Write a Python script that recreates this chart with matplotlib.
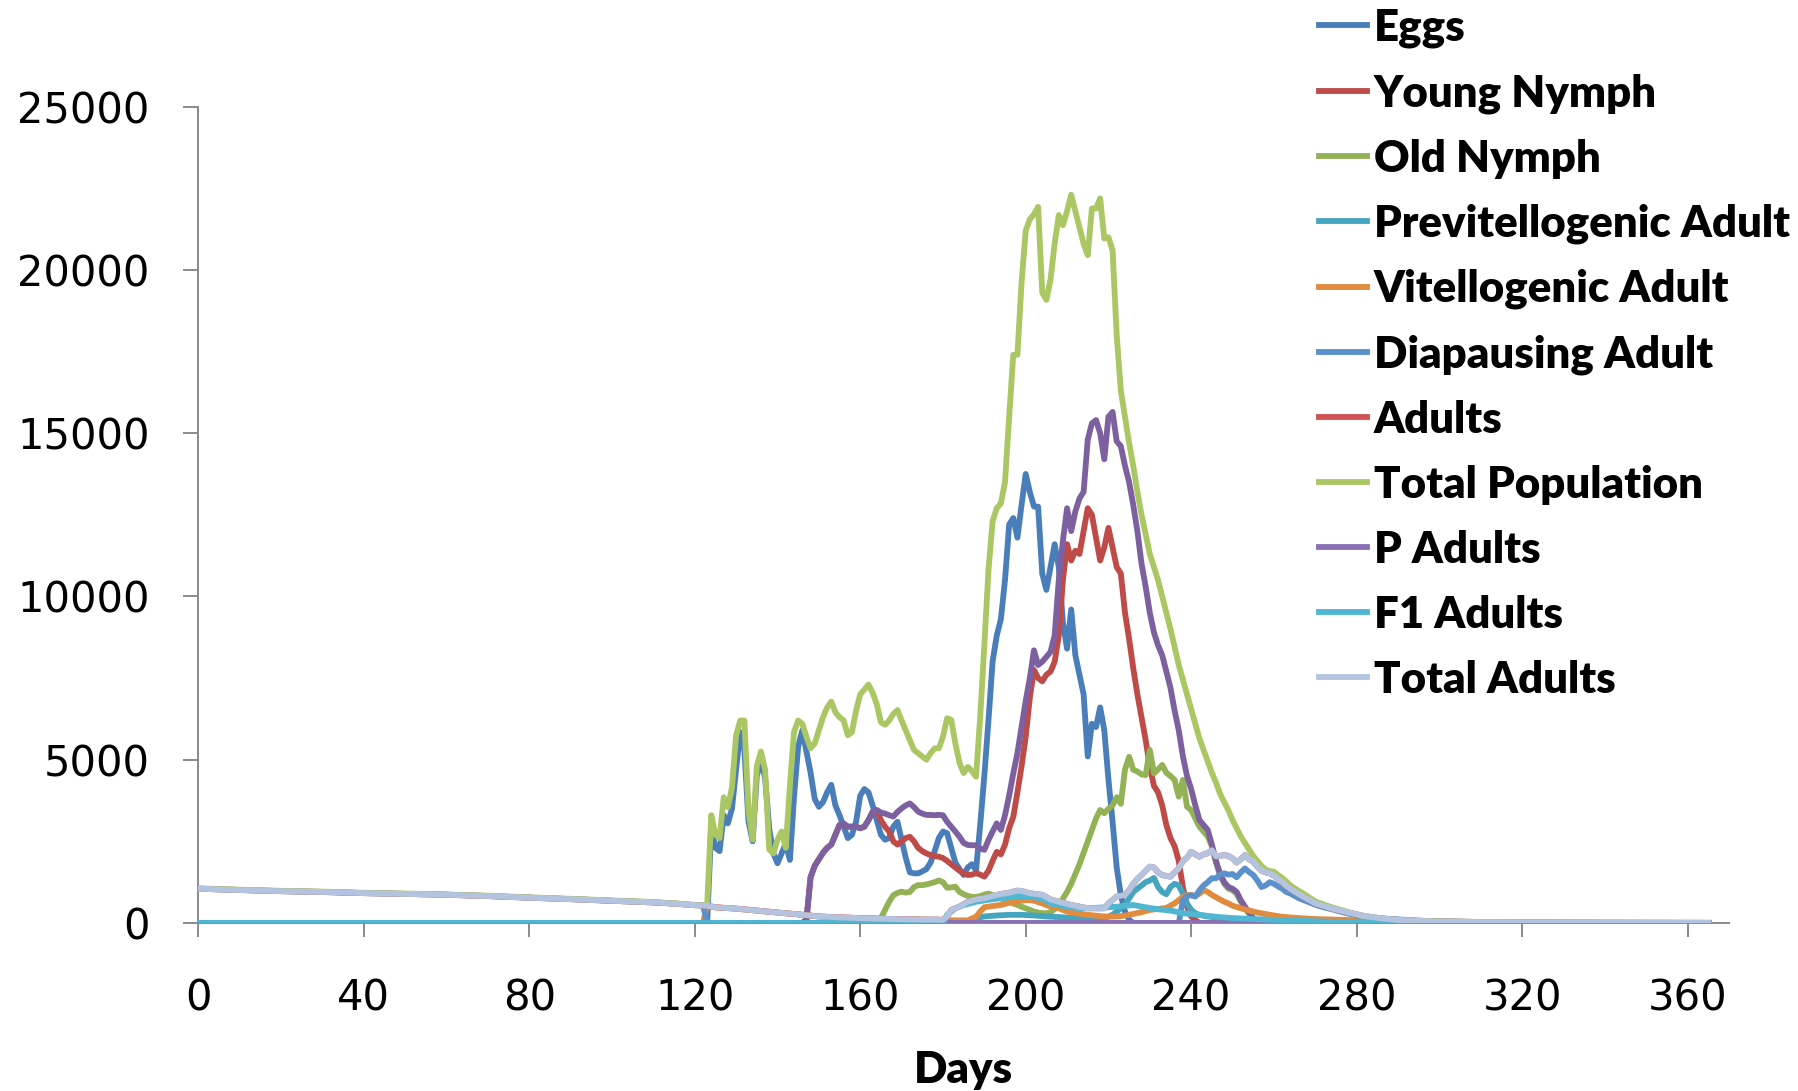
import numpy as np
import matplotlib
matplotlib.use("Agg")
import matplotlib.pyplot as plt

# (day, count) pairs for each stage of the simulation
eggs = [(0, 0), (123, 0), (124, 2950), (125, 2300), (126, 2200), (127, 3300), (128, 3050), (129, 3500),
        (130, 4700), (131, 5850), (132, 5300), (133, 3100), (134, 2500), (135, 4500), (136, 4990), (137, 4450),
        (138, 2900), (139, 2130), (140, 1830), (141, 2130), (142, 2440), (143, 1930), (144, 3870), (145, 5400),
        (146, 5900), (147, 5250), (148, 4600), (149, 3800), (150, 3560), (151, 3700), (152, 4000), (153, 4230),
        (154, 3600), (155, 3300), (156, 2950), (157, 2600), (158, 2700), (159, 3100), (160, 3900), (161, 4100),
        (162, 4000), (163, 3600), (164, 3150), (165, 2700), (166, 2550), (167, 2600), (168, 2950), (169, 3100),
        (170, 2550), (171, 2000), (172, 1550), (173, 1520), (174, 1520), (175, 1580), (176, 1650), (177, 1850),
        (178, 2200), (179, 2600), (180, 2800), (181, 2750), (182, 2300), (183, 1850), (184, 1650), (185, 1470),
        (186, 1700), (187, 1800), (188, 1620), (189, 3000), (190, 4500), (191, 6200), (192, 8000), (193, 8800),
        (194, 9300), (195, 10500), (196, 12200), (197, 12400), (198, 11800), (199, 12800), (200, 13750),
        (201, 13200), (202, 12750), (203, 12750), (204, 10700), (205, 10200), (206, 10900), (207, 11600),
        (208, 10900), (209, 9200), (210, 8400), (211, 9600), (212, 8200), (213, 7600), (214, 7000), (215, 5100),
        (216, 6100), (217, 6000), (218, 6600), (219, 5900), (220, 4400), (221, 3100), (222, 1700), (223, 850),
        (224, 350), (225, 100), (226, 0), (365, 0)]

young_nymph = [(0, 0), (146, 0), (147, 100), (148, 1400), (149, 1750), (150, 1950), (151, 2150), (152, 2300),
               (153, 2400), (154, 2700), (155, 3000), (156, 3000), (157, 2950), (158, 2950), (159, 2950),
               (160, 2900), (161, 2950), (162, 3150), (163, 3400), (164, 3450), (165, 3150), (166, 2950),
               (167, 2800), (168, 2500), (169, 2400), (170, 2500), (171, 2600), (172, 2640), (173, 2500),
               (174, 2300), (175, 2200), (176, 2130), (177, 2080), (178, 2050), (179, 2030), (180, 1990),
               (181, 1900), (182, 1800), (183, 1700), (184, 1600), (185, 1520), (186, 1470), (187, 1480),
               (188, 1530), (189, 1480), (190, 1420), (191, 1600), (192, 1900), (193, 2180), (194, 2100),
               (195, 2400), (196, 2900), (197, 3250), (198, 4000), (199, 4800), (200, 5700), (201, 6900),
               (202, 7750), (203, 7500), (204, 7400), (205, 7600), (206, 7700), (207, 8000), (208, 8800),
               (209, 10500), (210, 11600), (211, 11100), (212, 11400), (213, 11300), (214, 12000), (215, 12700),
               (216, 12500), (217, 11800), (218, 11100), (219, 11500), (220, 12100), (221, 11500), (222, 10900),
               (223, 10700), (224, 9500), (225, 8700), (226, 7800), (227, 7000), (228, 6300), (229, 5600),
               (230, 4800), (231, 4200), (232, 4000), (233, 3600), (234, 3000), (235, 2600), (236, 2350),
               (237, 1900), (238, 1100), (239, 500), (240, 200), (241, 90), (242, 0), (365, 0)]

old_nymph = [(0, 0), (164, 0), (165, 150), (166, 400), (167, 650), (168, 850), (169, 920), (170, 960),
             (171, 930), (172, 950), (173, 1100), (174, 1160), (175, 1160), (176, 1180), (177, 1215), (178, 1250),
             (179, 1300), (180, 1250), (181, 1080), (182, 1090), (183, 1110), (184, 950), (185, 880), (186, 830),
             (187, 800), (188, 800), (189, 820), (190, 870), (191, 900), (192, 850), (193, 800), (194, 750),
             (195, 700), (196, 650), (197, 600), (198, 550), (199, 500), (200, 450), (201, 400), (202, 350),
             (203, 320), (204, 300), (205, 300), (206, 330), (207, 420), (208, 550), (209, 750), (210, 950),
             (211, 1200), (212, 1500), (213, 1800), (214, 2150), (215, 2500), (216, 2850), (217, 3200),
             (218, 3460), (219, 3360), (220, 3500), (221, 3600), (222, 3850), (223, 3650), (224, 4700),
             (225, 5090), (226, 4690), (227, 4640), (228, 4550), (229, 4530), (230, 5300), (231, 4580),
             (232, 4700), (233, 4840), (234, 4600), (235, 4500), (236, 4380), (237, 3870), (238, 4380),
             (239, 3560), (240, 3460), (241, 3200), (242, 2950), (243, 2800), (244, 2650), (245, 2350),
             (246, 1850), (247, 1450), (248, 1200), (249, 1050), (250, 1000), (251, 900), (252, 650),
             (253, 450), (254, 280), (255, 120), (256, 40), (257, 0), (365, 0)]

# young + old nymphs together, plotted without a legend entry
nymphs = [(0, 0), (146, 0), (147, 100), (148, 1400), (149, 1750), (150, 1950), (151, 2150), (152, 2300),
          (153, 2400), (154, 2700), (155, 3000), (156, 3050), (157, 2950), (158, 2950), (159, 2950), (160, 2900),
          (161, 2950), (162, 3150), (163, 3400), (164, 3460), (165, 3380), (166, 3350), (167, 3300), (168, 3260),
          (169, 3400), (170, 3510), (171, 3600), (172, 3660), (173, 3550), (174, 3410), (175, 3350), (176, 3310),
          (177, 3307), (178, 3300), (179, 3310), (180, 3300), (181, 3100), (182, 2950), (183, 2800), (184, 2640),
          (185, 2450), (186, 2390), (187, 2380), (188, 2380), (189, 2280), (190, 2240), (191, 2540), (192, 2800),
          (193, 3050), (194, 2850), (195, 3300), (196, 3900), (197, 4580), (198, 5200), (199, 6000), (200, 6800),
          (201, 7500), (202, 8350), (203, 7900), (204, 8000), (205, 8150), (206, 8300), (207, 8800), (208, 10500),
          (209, 11700), (210, 12700), (211, 12000), (212, 12600), (213, 13000), (214, 13200), (215, 14800),
          (216, 15300), (217, 15400), (218, 15000), (219, 14200), (220, 15500), (221, 15650), (222, 14750),
          (223, 14600), (224, 14000), (225, 13500), (226, 12800), (227, 12000), (228, 11000), (229, 10300),
          (230, 9500), (231, 8900), (232, 8500), (233, 8200), (234, 7700), (235, 7200), (236, 6500), (237, 5900),
          (238, 5100), (239, 4500), (240, 4100), (241, 3600), (242, 3150), (243, 3000), (244, 2850), (245, 2400),
          (246, 1900), (247, 1500), (248, 1250), (249, 1100), (250, 1050), (251, 950), (252, 700), (253, 500),
          (254, 320), (255, 150), (256, 50), (257, 0), (365, 0)]

previtellogenic = [(0, 0), (186, 0), (187, 80), (188, 150), (190, 200), (193, 230), (196, 250), (199, 250),
                   (202, 230), (205, 200), (208, 180), (212, 150), (216, 130), (219, 150), (221, 250), (222, 350),
                   (223, 450), (224, 550), (225, 750), (226, 950), (227, 1050), (228, 1150), (229, 1250),
                   (230, 1300), (231, 1380), (232, 1100), (233, 950), (234, 880), (235, 1100), (236, 1200),
                   (237, 1150), (238, 900), (239, 600), (240, 400), (241, 300), (242, 250), (244, 200), (247, 150),
                   (250, 120), (255, 90), (260, 60), (270, 30), (280, 10), (290, 0), (365, 0)]

vitellogenic = [(0, 0), (122, 0), (123, 530), (125, 480), (130, 440), (135, 380), (140, 320), (145, 265),
                (150, 200), (155, 170), (160, 150), (165, 130), (170, 115), (175, 105), (180, 95), (183, 80),
                (186, 80), (188, 190), (189, 350), (190, 480), (192, 520), (194, 550), (196, 620), (198, 660),
                (200, 700), (201, 700), (202, 680), (204, 600), (206, 500), (208, 450), (210, 350), (212, 300),
                (215, 250), (218, 210), (220, 190), (223, 210), (225, 250), (228, 330), (230, 400), (232, 430),
                (234, 460), (236, 600), (237, 700), (238, 800), (239, 850), (240, 860), (241, 830), (242, 900),
                (243, 1010), (244, 950), (245, 860), (246, 790), (247, 720), (248, 650), (249, 600), (250, 530),
                (252, 450), (254, 380), (256, 320), (259, 250), (262, 190), (266, 150), (270, 120), (278, 90),
                (282, 70), (288, 40), (295, 20), (300, 0), (365, 0)]

total_adults = [(0, 1050), (10, 1010), (20, 975), (30, 950), (40, 915), (50, 890), (60, 865), (70, 825),
                (80, 775), (90, 730), (100, 680), (110, 630), (115, 595), (120, 545), (123, 530), (125, 480),
                (130, 440), (135, 380), (140, 320), (145, 265), (150, 200), (155, 170), (160, 150), (165, 130),
                (170, 115), (175, 105), (180, 100), (181, 200), (182, 400), (184, 500), (186, 650), (188, 720),
                (190, 760), (193, 860), (196, 930), (198, 990), (199, 980), (201, 910), (204, 860), (206, 720),
                (208, 650), (211, 550), (215, 450), (219, 450), (220, 600), (222, 810), (224, 860), (225, 1000),
                (226, 1200), (227, 1350), (228, 1470), (229, 1600), (230, 1725), (231, 1700), (232, 1550),
                (233, 1470), (234, 1440), (235, 1420), (236, 1550), (237, 1670), (238, 1900), (239, 2000),
                (240, 2180), (241, 2100), (242, 2030), (243, 2100), (244, 2140), (245, 2230), (246, 2040),
                (247, 2060), (248, 2080), (249, 2050), (250, 1980), (251, 1850), (252, 1950), (253, 2080),
                (254, 1950), (255, 1880), (256, 1720), (257, 1600), (258, 1550), (259, 1520), (260, 1450),
                (261, 1350), (262, 1250), (263, 1130), (264, 1040), (265, 960), (267, 810), (270, 600), (274, 440),
                (278, 320), (282, 210), (286, 140), (290, 92), (295, 65), (300, 45), (310, 30), (320, 20),
                (340, 10), (365, 5)]

diapausing = [(0, 1050), (10, 1010), (20, 975), (30, 950), (40, 915), (50, 890), (60, 865), (70, 825),
              (80, 775), (90, 730), (100, 680), (110, 630), (115, 595), (120, 545), (122, 535), (123, 0),
              (237, 0), (238, 700), (239, 820), (240, 850), (241, 810), (242, 1000), (243, 1150), (244, 1250),
              (245, 1370), (246, 1370), (247, 1480), (248, 1520), (249, 1480), (250, 1500), (251, 1400),
              (252, 1550), (253, 1670), (254, 1560), (255, 1470), (256, 1300), (257, 1100), (258, 1150),
              (259, 1250), (260, 1200), (261, 1120), (262, 1050), (263, 950), (264, 900), (266, 760), (268, 660),
              (270, 560), (272, 480), (274, 420), (277, 320), (280, 230), (283, 170), (286, 140), (290, 110),
              (295, 70), (300, 50), (310, 30), (330, 10), (365, 0)]

adults = total_adults

total_population = [(0, 1060), (10, 1020), (20, 985), (30, 960), (40, 925), (50, 900), (60, 875), (70, 835),
                    (80, 785), (90, 740), (100, 690), (110, 640), (115, 605), (120, 555), (123, 540), (124, 3300),
                    (125, 2700), (126, 2600), (127, 3850), (128, 3550), (129, 4150), (130, 5750), (131, 6200),
                    (132, 6200), (133, 3450), (134, 2550), (135, 4800), (136, 5250), (137, 4700), (138, 2250),
                    (139, 2130), (140, 2550), (141, 2800), (142, 2300), (143, 4200), (144, 5850), (145, 6200),
                    (146, 6100), (147, 5700), (148, 5350), (149, 5500), (150, 5900), (151, 6300), (152, 6600),
                    (153, 6780), (154, 6450), (155, 6300), (156, 6200), (157, 5750), (158, 5850), (159, 6500),
                    (160, 7000), (161, 7150), (162, 7300), (163, 7050), (164, 6700), (165, 6150), (166, 6070),
                    (167, 6200), (168, 6400), (169, 6520), (170, 6200), (171, 5900), (172, 5600), (173, 5300),
                    (174, 5200), (175, 5100), (176, 5000), (177, 5200), (178, 5350), (179, 5350), (180, 5700),
                    (181, 6270), (182, 6220), (183, 5500), (184, 4900), (185, 4590), (186, 4780), (187, 4650),
                    (188, 4480), (189, 6300), (190, 8500), (191, 10800), (192, 12300), (193, 12700), (194, 12850),
                    (195, 13500), (196, 15500), (197, 17400), (198, 17400), (199, 19600), (200, 21200),
                    (201, 21550), (202, 21700), (203, 21930), (204, 19300), (205, 19080), (206, 19700),
                    (207, 20800), (208, 21680), (209, 21370), (210, 21800), (211, 22300), (212, 21800),
                    (213, 21300), (214, 20800), (215, 20450), (216, 21880), (217, 21880), (218, 22190),
                    (219, 20960), (220, 21000), (221, 20600), (222, 18000), (223, 16300), (224, 15500),
                    (225, 14700), (226, 14000), (227, 13200), (228, 12500), (229, 11900), (230, 11300),
                    (231, 10900), (232, 10500), (233, 10000), (234, 9500), (235, 9000), (236, 8450), (237, 7900),
                    (238, 7450), (239, 7000), (240, 6550), (241, 6100), (242, 5650), (243, 5300), (244, 4950),
                    (245, 4600), (246, 4300), (247, 3950), (248, 3700), (249, 3450), (250, 3150), (251, 2900),
                    (252, 2650), (253, 2450), (254, 2250), (255, 2050), (256, 1900), (257, 1750), (258, 1630),
                    (259, 1590), (260, 1570), (261, 1470), (262, 1380), (263, 1270), (264, 1150), (265, 1060),
                    (267, 910), (270, 660), (274, 480), (278, 330), (282, 200), (286, 140), (290, 90), (295, 70),
                    (300, 50), (310, 30), (320, 20), (340, 10), (365, 5)]

p_adults = [(0, 0), (365, 0)]

f1_adults = [(0, 0), (180, 0), (181, 250), (183, 450), (185, 550), (188, 650), (191, 710), (194, 760),
             (197, 800), (200, 810), (202, 790), (204, 750), (206, 600), (208, 550), (211, 480), (214, 450),
             (218, 470), (222, 500), (226, 550), (229, 480), (232, 420), (235, 380), (238, 300), (242, 245),
             (246, 190), (250, 150), (255, 120), (260, 95), (266, 70), (273, 40), (280, 20), (290, 5), (300, 0),
             (365, 0)]

# plotting order (later series sit on top); nymph total has no legend entry
series = [
    ("Eggs", eggs, "#4A7EBB"),
    ("Young Nymph", young_nymph, "#BE4B48"),
    ("Old Nymph", old_nymph, "#93B155"),
    ("_Nymphs", nymphs, "#7D60A0"),
    ("Previtellogenic Adult", previtellogenic, "#46A5BE"),
    ("Vitellogenic Adult", vitellogenic, "#E08B3E"),
    ("Diapausing Adult", diapausing, "#5A91CD"),
    ("Adults", adults, "#CF5250"),
    ("Total Population", total_population, "#AAC764"),
    ("P Adults", p_adults, "#8B70B3"),
    ("F1 Adults", f1_adults, "#4FB7D2"),
    ("Total Adults", total_adults, "#B4C3DF"),
]

fig = plt.figure(figsize=(17.98, 10.91), dpi=100)
ax = fig.add_axes([0.1103, 0.154, 0.8513, 0.7483])

for i, (name, pts, col) in enumerate(series):
    d, v = np.array(pts).T
    ax.plot(d, v, color=col, lw=4.2, label=name, zorder=2 + i, solid_joinstyle="round")

ax.set_xlim(0, 370)
ax.set_ylim(0, 25000)
ax.set_xticks(range(0, 361, 40))
ax.set_yticks(range(0, 25001, 5000))

for s in ["top", "right"]:
    ax.spines[s].set_visible(False)
for s in ["left", "bottom"]:
    ax.spines[s].set_color("#8A8A8A")
    ax.spines[s].set_linewidth(1.4)
ax.spines["bottom"].set_zorder(1)

ax.tick_params(axis="y", direction="out", length=11, width=1.4, color="#8A8A8A", pad=24,
               labelsize=30)
ax.tick_params(axis="x", direction="out", length=10, width=1.4, color="#8A8A8A", pad=29,
               labelsize=30)

ax.set_xlabel("Days", fontsize=31.5, fontweight="heavy", family="Lato", labelpad=22)

# legend in the legend order (nymph total skipped)
handles, labels = ax.get_legend_handles_labels()
leg = fig.legend(handles, labels, loc="upper left", bbox_to_anchor=(0.7335, 0.993),
                 frameon=False, handlelength=1.1, handletextpad=0.15, labelspacing=0.57,
                 borderpad=0, borderaxespad=0,
                 prop={"family": "Lato", "weight": "heavy", "size": 31.5})
for ln in leg.get_lines():
    ln.set_linewidth(4.2)

fig.savefig("out.png", dpi=100)
